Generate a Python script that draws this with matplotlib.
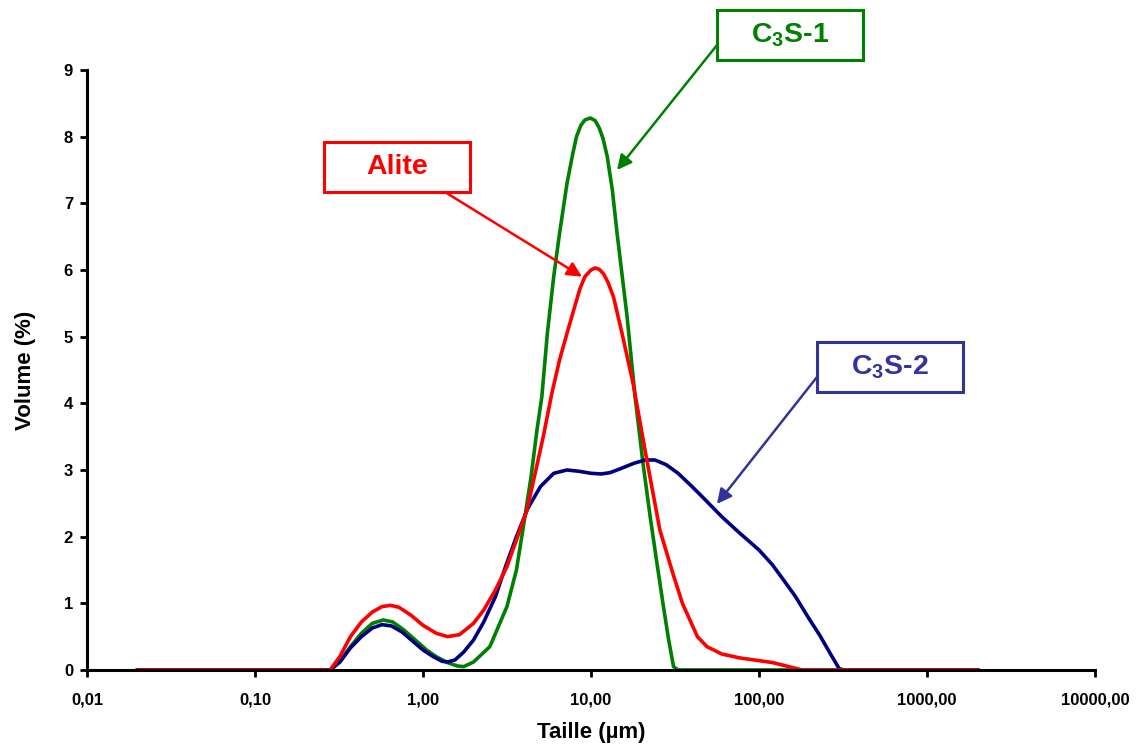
import numpy as np
import matplotlib
matplotlib.use("Agg")
import matplotlib.pyplot as plt
from matplotlib.patches import Rectangle

plt.rcParams['font.family'] = ['Liberation Sans', 'DejaVu Sans']
plt.rcParams['font.weight'] = 'bold'
plt.rcParams['mathtext.fontset'] = 'custom'
plt.rcParams['mathtext.rm'] = 'Liberation Sans:bold'
plt.rcParams['mathtext.bf'] = 'Liberation Sans:bold'
plt.rcParams['mathtext.default'] = 'bf'

# C3S-1 (green)
x_c3s1 = [0.02, 0.28, 0.32, 0.37, 0.43, 0.5, 0.58, 0.66, 0.77, 0.9, 1.05, 1.2, 1.4,
          1.6, 1.75, 2.0, 2.5, 3.16, 3.6, 3.93, 4.4, 4.77, 5.1, 5.5, 6.0, 6.5, 7.2,
          7.8, 8.2, 8.7, 9.2, 9.9, 10.6, 11.2, 11.8, 12.5, 13.4, 14.3, 16.4, 18.3, 20.4,
          22.5, 24.7, 27.0, 29.0, 31.0, 33.0, 2000]
y_c3s1 = [0, 0, 0.12, 0.35, 0.55, 0.7, 0.75, 0.72, 0.6, 0.45, 0.3, 0.2, 0.11,
          0.06, 0.05, 0.12, 0.35, 0.95, 1.5, 2.1, 2.9, 3.6, 4.1, 5.05, 5.9, 6.55, 7.3,
          7.75, 8.0, 8.17, 8.25, 8.28, 8.24, 8.13, 7.97, 7.7, 7.2, 6.55, 5.3, 4.1, 3.1,
          2.3, 1.6, 0.95, 0.45, 0.05, 0, 0]

# C3S-2 (navy)
x_c3s2 = [0.02, 0.28, 0.32, 0.37, 0.43, 0.5, 0.57, 0.65, 0.75, 0.88, 1.0, 1.15, 1.3,
          1.4, 1.55, 1.75, 2.0, 2.3, 2.7, 3.1, 3.6, 4.2, 5.0, 6.0, 7.2, 8.5, 10, 11.5,
          13, 15, 18, 21, 24, 28, 33, 40, 48, 60, 77, 100, 120, 140, 165, 195, 230,
          265, 300, 320, 2000]
y_c3s2 = [0, 0, 0.12, 0.33, 0.5, 0.63, 0.68, 0.66, 0.57, 0.42, 0.3, 0.2, 0.13,
          0.12, 0.15, 0.27, 0.45, 0.72, 1.1, 1.55, 2.0, 2.42, 2.75, 2.95, 3.0, 2.98, 2.95, 2.94,
          2.96, 3.02, 3.1, 3.15, 3.15, 3.08, 2.95, 2.75, 2.55, 2.3, 2.05, 1.8, 1.58, 1.35, 1.1, 0.8, 0.52,
          0.25, 0.02, 0, 0]

# Alite (red)
x_alite = [0.02, 0.28, 0.32, 0.37, 0.43, 0.5, 0.57, 0.64, 0.72, 0.85, 1.0, 1.2, 1.4,
           1.65, 2.0, 2.3, 2.7, 3.16, 3.6, 4.16, 4.7, 5.2, 5.85, 6.5, 7.2, 8.0, 8.6, 9.2,
           10.0, 10.6, 11.2, 11.9, 12.6, 13.6, 15.3, 17.8, 21.5, 25.7, 30.7, 35, 38.8, 43,
           49, 60, 77, 100, 121, 145, 168, 180, 2000]
y_alite = [0, 0, 0.2, 0.5, 0.72, 0.87, 0.95, 0.97, 0.94, 0.82, 0.67, 0.55, 0.5,
           0.53, 0.7, 0.9, 1.2, 1.55, 1.95, 2.4, 3.0, 3.5, 4.15, 4.65, 5.05, 5.45, 5.72, 5.9,
           6.0, 6.03, 6.01, 5.94, 5.82, 5.6, 5.05, 4.3, 3.15, 2.1, 1.45, 1.0, 0.75, 0.5,
           0.35, 0.24, 0.18, 0.14, 0.11, 0.06, 0.02, 0, 0]

xticks = [0.01, 0.1, 1, 10, 100, 1000, 10000]
xticklabels = ['0,01', '0,10', '1,00', '10,00', '100,00', '1000,00', '10000,00']

fig = plt.figure(figsize=(11.41, 7.51), dpi=100)
ax = fig.add_axes([0.0762, 0.1079, 0.8835, 0.7989])

ax.plot(x_c3s1, y_c3s1, color='#008000', lw=2.6)
ax.plot(x_c3s2, y_c3s2, color='#000080', lw=2.6)
ax.plot(x_alite, y_alite, color='#FF0000', lw=2.6)

ax.set_xscale('log')
ax.set_xlim(0.01, 10000)
ax.set_ylim(0, 9)
ax.set_xticks(xticks)
ax.set_xticklabels(xticklabels)
ax.minorticks_off()
ax.set_yticks(range(10))
for s in ['top', 'right']:
    ax.spines[s].set_visible(False)
for s in ['left', 'bottom']:
    ax.spines[s].set_linewidth(2.2)
ax.tick_params(axis='both', width=2, length=5, labelsize=12)
ax.tick_params(axis='x', pad=11)
ax.tick_params(axis='y', pad=5)
ax.set_xlabel('Taille (µm)', fontsize=16, fontweight='bold', labelpad=11)
ax.set_ylabel('Volume (%)', fontsize=16, fontweight='bold', labelpad=20)

# annotation boxes (figure fractions)
boxes = [
    ('C$_3$S-1', '#008000', (0.6284, 0.9201), (0.6924, 0.9534), (0.6284, 0.940), (14.3, 7.5)),
    ('Alite', '#FF0000', (0.2840, 0.7443), (0.3480, 0.7776), (0.390, 0.7443), (8.84, 5.9)),
    ('C$_3$S-2', '#333399', (0.7160, 0.4780), (0.7800, 0.5113), (0.716, 0.498), (56.2, 2.49)),
]
for label, col, corner, center, start, tip in boxes:
    fig.patches.append(Rectangle(corner, 0.128, 0.0666, transform=fig.transFigure,
                                 fill=False, edgecolor=col, lw=2.2))
    fig.text(center[0], center[1], label, color=col, fontsize=20.5, fontweight='bold',
             ha='center', va='center')
    ax.annotate('', xy=tip, xycoords='data', xytext=start, textcoords='figure fraction',
                arrowprops=dict(arrowstyle='-|>', color=col, lw=1.8, mutation_scale=22,
                                shrinkA=0, shrinkB=0), annotation_clip=False)

fig.savefig('out.png', dpi=100)
